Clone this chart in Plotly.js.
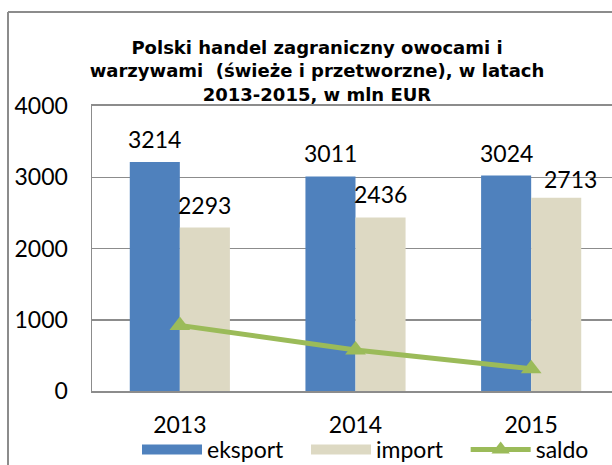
<!DOCTYPE html>
<html>
<head>
<meta charset="utf-8">
<script src="https://cdn.plot.ly/plotly-3.0.1.min.js"></script>
<style>
html, body { margin: 0; padding: 0; overflow: hidden; background: #fff; }
#chart { width: 640px; height: 520px; }
</style>
</head>
<body>
<div id="chart"></div>
<script>
// ---- data ----
const years = ['2013', '2014', '2015'];
const eksport = [3214, 3011, 3024];
const importVals = [2293, 2436, 2713];
const saldo = [921, 575, 311];
const yTicks = [0, 1000, 2000, 3000, 4000];

const FONT = 'Lato, "Open Sans", sans-serif';
const TITLE_FONT = '"DejaVu Sans", sans-serif';
const GRID = '#8c8c8c';
const BLUE = '#4F81BD', BEIGE = '#DDD9C3', GREEN = '#9BBB59';
const NB = '\u00a0\u00a0\u00a0';

const traces = [
  {
    type: 'bar', name: 'eksport', x: years, y: eksport, showlegend: false,
    marker: { color: BLUE }, hoverinfo: 'skip'
  },
  {
    type: 'bar', name: 'import', x: years, y: importVals, showlegend: false,
    marker: { color: BEIGE }, hoverinfo: 'skip'
  },
  // legend entries with wide swatches for the bar series
  { type: 'scatter', mode: 'lines', name: 'eksport' + NB, x: [null], y: [null],
    line: { color: BLUE, width: 15 }, legendrank: 1 },
  { type: 'scatter', mode: 'lines', name: 'import' + NB, x: [null], y: [null],
    line: { color: BEIGE, width: 15 }, legendrank: 2 },
  {
    type: 'scatter', mode: 'lines+markers', name: 'saldo', x: years, y: saldo,
    line: { color: GREEN, width: 5 },
    marker: { symbol: 'triangle-up', size: 18, color: GREEN },
    hoverinfo: 'skip', cliponaxis: false, legendrank: 3
  }
];

// value labels above bars, positioned through the axes (category index)
const annotations = [];
const addLabels = (vals, shift, lastExtra) => {
  vals.forEach((v, i) => {
    annotations.push({
      x: i, y: v, xref: 'x', yref: 'y',
      text: String(v), showarrow: false,
      xanchor: 'center', yanchor: 'middle',
      xshift: shift + (i === vals.length - 1 ? lastExtra : 0),
      yshift: i === vals.length - 1 && lastExtra ? 19 : 23,
      font: { family: FONT, size: 23, color: '#000' }
    });
  });
};
addLabels(eksport, -25, 0);
addLabels(importVals, 25, 14);

// outer chart frame (decorative), in paper coords
const W = 640, H = 520, ML = 92, MR = 21, MT = 106, MB = H - 391;
const pw = W - ML - MR, ph = H - MT - MB;
const px = v => (v - ML) / pw;
const py = v => (H - MB - v) / ph;

const layout = {
  width: W, height: H,
  margin: { l: ML, r: MR, t: MT, b: MB, pad: 0 },
  paper_bgcolor: '#fff', plot_bgcolor: '#fff',
  barmode: 'group', bargap: 0.43, bargroupgap: 0,
  showlegend: true,
  title: {
    text: 'Polski handel zagraniczny owocami i<br>warzywami  (świeże i przetworzne), w latach<br>2013-2015, w mln EUR',
    font: { family: TITLE_FONT, size: 18, color: '#000', weight: 'bold' },
    xref: 'container', yref: 'container',
    x: 317 / W, xanchor: 'center',
    y: 1 - 54 / H, yanchor: 'top'
  },
  xaxis: {
    type: 'category', categoryorder: 'array', categoryarray: years,
    range: [-0.5, 2.5], autorange: false,
    showgrid: false, zeroline: false,
    showline: true, linecolor: GRID, linewidth: 2, mirror: true,
    ticks: '', ticklabelstandoff: 12,
    tickfont: { family: FONT, size: 23, color: '#000' },
    fixedrange: true
  },
  yaxis: {
    range: [0, 4000], autorange: false, tickvals: yTicks,
    showgrid: true, gridcolor: GRID, gridwidth: 1.5,
    zeroline: false,
    showline: true, linecolor: GRID, linewidth: 1.5, mirror: true,
    ticks: '', ticklabelstandoff: 18,
    tickfont: { family: FONT, size: 23, color: '#000' },
    fixedrange: true
  },
  legend: {
    orientation: 'h', x: px(137), xanchor: 'left',
    y: py(428), yanchor: 'top',
    font: { family: FONT, size: 23, color: '#000' },
    itemwidth: 60, tracegroupgap: 0, traceorder: 'normal',
    bgcolor: 'rgba(0,0,0,0)'
  },
  annotations: annotations,
  shapes: [
    { type: 'line', xref: 'paper', yref: 'paper', x0: px(8), x1: px(8), y0: py(12), y1: py(H + 10),
      line: { color: '#8c8c8c', width: 2 } },
    { type: 'line', xref: 'paper', yref: 'paper', x0: px(8), x1: px(W + 10), y0: py(12), y1: py(12),
      line: { color: '#8c8c8c', width: 2 } }
  ]
};

Plotly.newPlot('chart', traces, layout, { staticPlot: true, displayModeBar: false });
</script>
</body>
</html>
